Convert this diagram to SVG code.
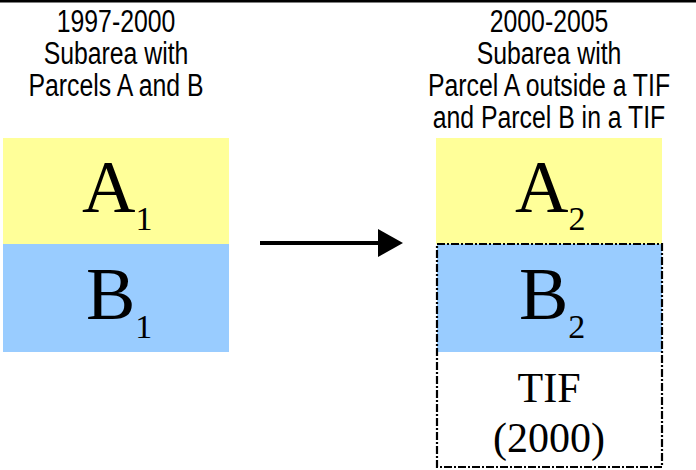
<svg xmlns="http://www.w3.org/2000/svg" width="696" height="470" viewBox="0 0 696 470">
<defs>
<style>
.hdr{font-family:"Liberation Sans",Arial,sans-serif;font-size:31px;fill:#000;text-anchor:middle}
.big{font-family:"Liberation Serif","Times New Roman",serif;font-size:74px;fill:#000}
.sub{font-family:"Liberation Serif","Times New Roman",serif;font-size:34px;fill:#000}
.tif{font-family:"Liberation Serif","Times New Roman",serif;font-size:42px;fill:#000;text-anchor:middle}
.yel{fill:#FFFF99}
.blu{fill:#99CCFF}
</style>
</defs>
<rect x="0" y="0" width="696" height="2.5" fill="#000"/>
<g id="header-left" transform="translate(116,0) scale(0.8,1)">
<text class="hdr" x="0" y="32">1997-2000</text>
<text class="hdr" x="0" y="64">Subarea with</text>
<text class="hdr" x="0" y="96">Parcels A and B</text>
</g>
<g id="header-right" transform="translate(549,0) scale(0.8,1)">
<text class="hdr" x="0" y="32">2000-2005</text>
<text class="hdr" x="0" y="64">Subarea with</text>
<text class="hdr" x="0" y="96">Parcel A outside a TIF</text>
<text class="hdr" x="0" y="128">and Parcel B in a TIF</text>
</g>
<g id="A1">
<rect class="yel" x="3" y="138" width="226" height="106"/>
<text x="82" y="212"><tspan class="big">A</tspan><tspan class="sub" dy="18">1</tspan></text>
</g>
<g id="B1">
<rect class="blu" x="3" y="244" width="226" height="108"/>
<text x="86" y="319"><tspan class="big">B</tspan><tspan class="sub" dy="19">1</tspan></text>
</g>
<g id="A2">
<rect class="yel" x="436" y="138" width="226" height="106"/>
<text x="515" y="212"><tspan class="big">A</tspan><tspan class="sub" dy="18">2</tspan></text>
</g>
<g id="TIF">
<rect class="blu" x="437" y="244" width="225" height="108"/>
<text x="519" y="319"><tspan class="big">B</tspan><tspan class="sub" dy="19">2</tspan></text>
<rect x="437" y="244" width="225" height="223" fill="none" stroke="#000" stroke-width="2.2" stroke-dasharray="8 2 2 2"/>
<text class="tif" x="549" y="402">TIF</text>
<text class="tif" x="549" y="452">(2000)</text>
</g>
<g id="connectors">
<line x1="260" y1="243" x2="380" y2="243" stroke="#000" stroke-width="4"/>
<polygon points="378,229 403,243 378,257" fill="#000"/>
</g>
</svg>
